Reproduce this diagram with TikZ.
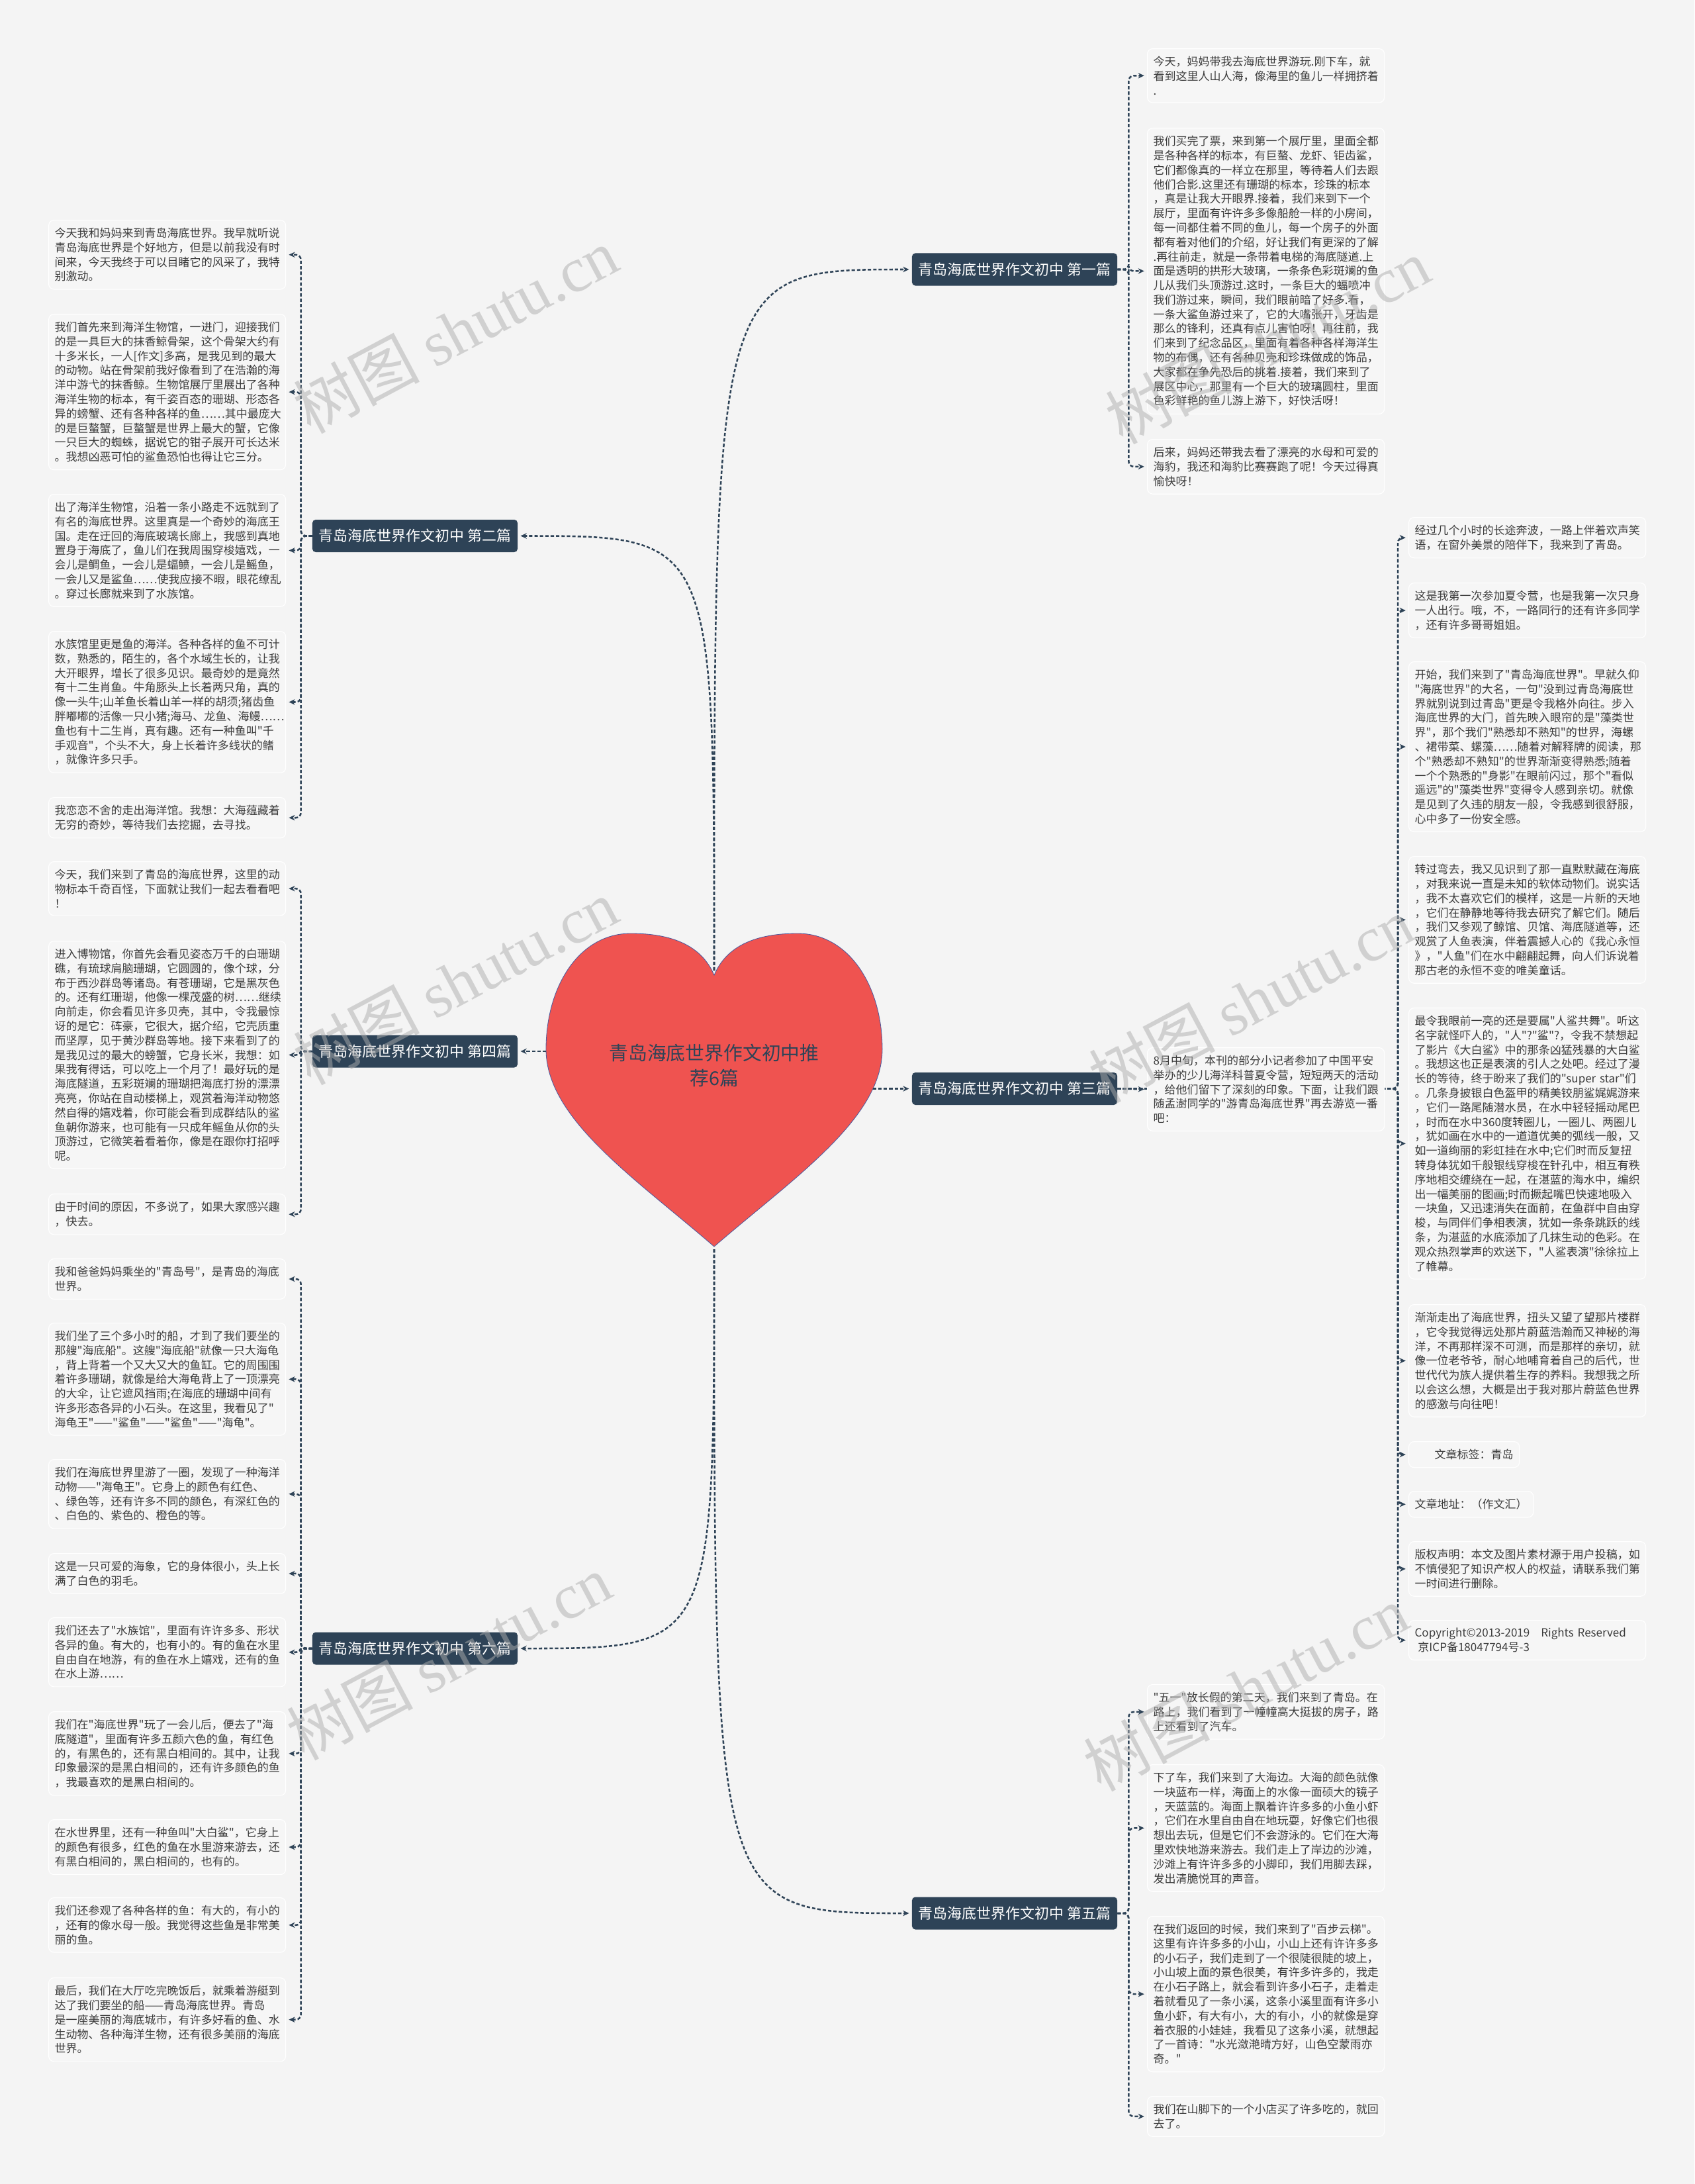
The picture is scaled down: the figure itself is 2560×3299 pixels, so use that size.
\documentclass[tikz,border=0pt]{standalone}
\usepackage{fontspec}
\newfontfamily\cjk{Noto Sans CJK SC}
\newfontfamily\wmfont{Liberation Serif}
\usepackage{xcolor}
\usepackage{tikz}
\usetikzlibrary{arrows.meta}
\definecolor{navy}{HTML}{2E4357}
\definecolor{paper}{HTML}{F4F4F4}
\definecolor{leaffill}{HTML}{F6F6F6}
\definecolor{ink}{HTML}{3C3C3C}
\definecolor{heartred}{HTML}{EF5350}
\definecolor{heartline}{HTML}{4F5B9E}
\definecolor{wmgray}{HTML}{ADADAD}

\begin{document}
\begin{tikzpicture}[x=0.025cm,y=-0.025cm,
  leafbox/.style={draw=white,line width=0.8pt,fill=leaffill,rounded corners=0.2cm,
                  anchor=north west,align=left,inner xsep=0.225cm,inner ysep=0.29cm,
                  text=ink,font=\cjk\fontsize{12.1pt}{15.5pt}\selectfont},
  leaf/.style={leafbox,text width=8.5cm},
  branch/.style={fill=navy,text=white,rounded corners=0.125cm,minimum width=7.75cm,
                 minimum height=1.225cm,font=\cjk\fontsize{15.6pt}{18pt}\selectfont},
  conn/.style={navy,line width=1.8pt,dash pattern=on 3.6pt off 2.2pt,rounded corners=5.5pt,
               -{Stealth[length=6.5pt,width=6pt]},shorten >=3pt},
  wmark/.style={text=wmgray,text opacity=0.5,rotate=28,font=\cjk\fontsize{68pt}{70pt}\selectfont}]
  \fill[paper] (0,0) rectangle (2560,3299);
  \useasboundingbox (0,0) rectangle (2560,3299);

  % centre heart
  \draw[fill=heartred,draw=heartline,line width=0.6pt]
    (1079,1473) .. controls (1060,1428) and (1015,1410) .. (953,1410)
    .. controls (875,1410) and (825,1490) .. (825,1585)
    .. controls (825,1690) and (960,1780) .. (1079,1883)
    .. controls (1198,1780) and (1333,1690) .. (1333,1585)
    .. controls (1333,1490) and (1283,1410) .. (1205,1410)
    .. controls (1143,1410) and (1098,1428) .. (1079,1473) -- cycle;
  \node[text=navy,align=center,font=\cjk\fontsize{20.5pt}{27pt}\selectfont] (H) at (1079,1609)
    {青岛海底世界作文初中推\\荐6篇};
  \coordinate (Htop) at (1079,1466);
  \coordinate (Hbot) at (1079,1887);
  \coordinate (Hl) at (825,1588);
  \coordinate (Hr) at (1319,1644.5);

  % branches
  \node[branch] (P1) at (1533,407)    {青岛海底世界作文初中 第一篇};
  \node[branch] (P2) at (627,809.5)   {青岛海底世界作文初中 第二篇};
  \node[branch] (P3) at (1533,1644.5) {青岛海底世界作文初中 第三篇};
  \node[branch] (P4) at (627,1588)    {青岛海底世界作文初中 第四篇};
  \node[branch] (P5) at (1533,2890)   {青岛海底世界作文初中 第五篇};
  \node[branch] (P6) at (627,2490)    {青岛海底世界作文初中 第六篇};

  % 第一篇
  \node[leaf] (P1a) at (1733,73) {今天，妈妈带我去海底世界游玩.刚下车，就\\看到这里人山人海，像海里的鱼儿一样拥挤着\\.};
  \node[leaf] (P1b) at (1733,193) {我们买完了票，来到第一个展厅里，里面全都\\是各种各样的标本，有巨螯、龙虾、钜齿鲨，\\它们都像真的一样立在那里，等待着人们去跟\\他们合影.这里还有珊瑚的标本，珍珠的标本\\，真是让我大开眼界.接着，我们来到下一个\\展厅，里面有许许多多像船舱一样的小房间，\\每一间都住着不同的鱼儿，每一个房子的外面\\都有着对他们的介绍，好让我们有更深的了解\\.再往前走，就是一条带着电梯的海底隧道.上\\面是透明的拱形大玻璃，一条条色彩斑斓的鱼\\儿从我们头顶游过.这时，一条巨大的蝠喷冲\\我们游过来，瞬间，我们眼前暗了好多.看，\\一条大鲨鱼游过来了，它的大嘴张开，牙齿是\\那么的锋利，还真有点儿害怕呀！再往前，我\\们来到了纪念品区，里面有着各种各样海洋生\\物的布偶，还有各种贝壳和珍珠做成的饰品，\\大家都在争先恐后的挑着.接着，我们来到了\\展区中心，那里有一个巨大的玻璃圆柱，里面\\色彩鲜艳的鱼儿游上游下，好快活呀！};
  \node[leaf] (P1c) at (1733,663) {后来，妈妈还带我去看了漂亮的水母和可爱的\\海豹，我还和海豹比赛赛跑了呢！今天过得真\\愉快呀！};

  % 第二篇
  \node[leaf] (P2a) at (73,332) {今天我和妈妈来到青岛海底世界。我早就听说\\青岛海底世界是个好地方，但是以前我没有时\\间来，今天我终于可以目睹它的风采了，我特\\别激动。};
  \node[leaf] (P2b) at (73,474) {我们首先来到海洋生物馆，一进门，迎接我们\\的是一具巨大的抹香鲸骨架，这个骨架大约有\\十多米长，一人[作文]多高，是我见到的最大\\的动物。站在骨架前我好像看到了在浩瀚的海\\洋中游弋的抹香鲸。生物馆展厅里展出了各种\\海洋生物的标本，有千姿百态的珊瑚、形态各\\异的螃蟹、还有各种各样的鱼……其中最庞大\\的是巨螯蟹，巨螯蟹是世界上最大的蟹，它像\\一只巨大的蜘蛛，据说它的钳子展开可长达米\\。我想凶恶可怕的鲨鱼恐怕也得让它三分。};
  \node[leaf] (P2c) at (73,746) {出了海洋生物馆，沿着一条小路走不远就到了\\有名的海底世界。这里真是一个奇妙的海底王\\国。走在迂回的海底玻璃长廊上，我感到真地\\置身于海底了，鱼儿们在我周围穿梭嬉戏，一\\会儿是鲷鱼，一会儿是蝠鲼，一会儿是鳐鱼，\\一会儿又是鲨鱼……使我应接不暇，眼花缭乱\\。穿过长廊就来到了水族馆。};
  \node[leaf] (P2d) at (73,953) {水族馆里更是鱼的海洋。各种各样的鱼不可计\\数，熟悉的，陌生的，各个水域生长的，让我\\大开眼界，增长了很多见识。最奇妙的是竟然\\有十二生肖鱼。牛角豚头上长着两只角，真的\\像一头牛;山羊鱼长着山羊一样的胡须;猪齿鱼\\胖嘟嘟的活像一只小猪;海马、龙鱼、海鳗……\\鱼也有十二生肖，真有趣。还有一种鱼叫"千\\手观音"，个头不大，身上长着许多线状的鳍\\，就像许多只手。};
  \node[leaf] (P2e) at (73,1204) {我恋恋不舍的走出海洋馆。我想：大海蕴藏着\\无穷的奇妙，等待我们去挖掘，去寻找。};

  % 第三篇
  \node[leaf] (P3b) at (2128,781) {经过几个小时的长途奔波，一路上伴着欢声笑\\语，在窗外美景的陪伴下，我来到了青岛。};
  \node[leaf] (P3c) at (2128,880) {这是我第一次参加夏令营，也是我第一次只身\\一人出行。哦，不，一路同行的还有许多同学\\，还有许多哥哥姐姐。};
  \node[leaf] (P3d) at (2128,999) {开始，我们来到了"青岛海底世界"。早就久仰\\"海底世界"的大名，一句"没到过青岛海底世\\界就别说到过青岛"更是令我格外向往。步入\\海底世界的大门，首先映入眼帘的是"藻类世\\界"，那个我们"熟悉却不熟知"的世界，海螺\\、裙带菜、螺藻……随着对解释牌的阅读，那\\个"熟悉却不熟知"的世界渐渐变得熟悉;随着\\一个个熟悉的"身影"在眼前闪过，那个"看似\\遥远"的"藻类世界"变得令人感到亲切。就像\\是见到了久违的朋友一般，令我感到很舒服，\\心中多了一份安全感。};
  \node[leaf] (P3e) at (2128,1293) {转过弯去，我又见识到了那一直默默藏在海底\\，对我来说一直是未知的软体动物们。说实话\\，我不太喜欢它们的模样，这是一片新的天地\\，它们在静静地等待我去研究了解它们。随后\\，我们又参观了鲸馆、贝馆、海底隧道等，还\\观赏了人鱼表演，伴着震撼人心的《我心永恒\\》，"人鱼"们在水中翩翩起舞，向人们诉说着\\那古老的永恒不变的唯美童话。};
  \node[leaf] (P3f) at (2128,1522) {最令我眼前一亮的还是要属"人鲨共舞"。听这\\名字就怪吓人的，"人"?"鲨"?，令我不禁想起\\了影片《大白鲨》中的那条凶猛残暴的大白鲨\\。我想这也正是表演的引人之处吧。经过了漫\\长的等待，终于盼来了我们的"super~star"们\\。几条身披银白色盔甲的精美铰朋鲨娓娓游来\\，它们一路尾随潜水员，在水中轻轻摇动尾巴\\，时而在水中360度转圈儿，一圈儿、两圈儿\\，犹如画在水中的一道道优美的弧线一般，又\\如一道绚丽的彩虹挂在水中;它们时而反复扭\\转身体犹如千般银线穿梭在针孔中，相互有秩\\序地相交缠绕在一起，在湛蓝的海水中，编织\\出一幅美丽的图画;时而撅起嘴巴快速地吸入\\一块鱼，又迅速消失在面前，在鱼群中自由穿\\梭，与同伴们争相表演，犹如一条条跳跃的线\\条，为湛蓝的水底添加了几抹生动的色彩。在\\观众热烈掌声的欢送下，"人鲨表演"徐徐拉上\\了帷幕。};
  \node[leaf] (P3g) at (2128,1970) {渐渐走出了海底世界，扭头又望了望那片楼群\\，它令我觉得远处那片蔚蓝浩瀚而又神秘的海\\洋，不再那样深不可测，而是那样的亲切，就\\像一位老爷爷，耐心地哺育着自己的后代，世\\世代代为族人提供着生存的养料。我想我之所\\以会这么想，大概是出于我对那片蔚蓝色世界\\的感激与向往吧！};
  \node[leafbox] (P3h) at (2128,2177) {\hspace*{0.75cm}文章标签：青岛};
  \node[leafbox] (P3i) at (2128,2252) {文章地址：（作文汇）};
  \node[leaf] (P3j) at (2128,2328) {版权声明：本文及图片素材源于用户投稿，如\\不慎侵犯了知识产权人的权益，请联系我们第\\一时间进行删除。};
  \node[leaf] (P3k) at (2128,2447) {\mbox{Copyright©2013-2019\ \ \ Rights Reserved}\\\hspace*{0.12cm}京ICP备18047794号-3};

  % 第四篇
  \node[leaf] (P4a) at (73,1301) {今天，我们来到了青岛的海底世界，这里的动\\物标本千奇百怪，下面就让我们一起去看看吧\\！};
  \node[leaf] (P4b) at (73,1421) {进入博物馆，你首先会看见姿态万千的白珊瑚\\礁，有琉球肩脑珊瑚，它圆圆的，像个球，分\\布于西沙群岛等诸岛。有苍珊瑚，它是黑灰色\\的。还有红珊瑚，他像一棵茂盛的树……继续\\向前走，你会看见许多贝壳，其中，令我最惊\\讶的是它：砗豪，它很大，据介绍，它壳质重\\而坚厚，见于黄沙群岛等地。接下来看到了的\\是我见过的最大的螃蟹，它身长米，我想：如\\果我有得话，可以吃上一个月了！最好玩的是\\海底隧道，五彩斑斓的珊瑚把海底打扮的漂漂\\亮亮，你站在自动楼梯上，观赏着海洋动物悠\\然自得的嬉戏着，你可能会看到成群结队的鲨\\鱼朝你游来，也可能有一只成年鳐鱼从你的头\\顶游过，它微笑着看着你，像是在跟你打招呼\\呢。};
  \node[leaf] (P4c) at (73,1803) {由于时间的原因，不多说了，如果大家感兴趣\\，快去。};

  % 第五篇
  \node[leaf] (P5a) at (1733,2544) {"五一"放长假的第二天，我们来到了青岛。在\\路上，我们看到了一幢幢高大挺拔的房子，路\\上还看到了汽车。};
  \node[leaf] (P5b) at (1733,2665) {下了车，我们来到了大海边。大海的颜色就像\\一块蓝布一样，海面上的水像一面硕大的镜子\\，天蓝蓝的。海面上飘着许许多多的小鱼小虾\\，它们在水里自由自在地玩耍，好像它们也很\\想出去玩，但是它们不会游泳的。它们在大海\\里欢快地游来游去。我们走上了岸边的沙滩，\\沙滩上有许许多多的小脚印，我们用脚去踩，\\发出清脆悦耳的声音。};
  \node[leaf] (P5c) at (1733,2894) {在我们返回的时候，我们来到了"百步云梯"。\\这里有许许多多的小山，小山上还有许许多多\\的小石子，我们走到了一个很陡很陡的坡上，\\小山坡上面的景色很美，有许多许多的，我走\\在小石子路上，就会看到许多小石子，走着走\\着就看见了一条小溪，这条小溪里面有许多小\\鱼小虾，有大有小，大的有小，小的就像是穿\\着衣服的小娃娃，我看见了这条小溪，就想起\\了一首诗："水光潋滟晴方好，山色空蒙雨亦\\奇。"};
  \node[leaf] (P5d) at (1733,3166) {我们在山脚下的一个小店买了许多吃的，就回\\去了。};

  % 第六篇
  \node[leaf] (P6a) at (73,1901) {我和爸爸妈妈乘坐的"青岛号"，是青岛的海底\\世界。};
  \node[leaf] (P6b) at (73,1998) {我们坐了三个多小时的船，才到了我们要坐的\\那艘"海底船"。这艘"海底船"就像一只大海龟\\，背上背着一个又大又大的鱼缸。它的周围围\\着许多珊瑚，就像是给大海龟背上了一顶漂亮\\的大伞，让它遮风挡雨;在海底的珊瑚中间有\\许多形态各异的小石头。在这里，我看见了"\\海龟王"——"鲨鱼"——"鲨鱼"——"海龟"。};
  \node[leaf] (P6c) at (73,2204) {我们在海底世界里游了一圈，发现了一种海洋\\动物——"海龟王"。它身上的颜色有红色、\\、绿色等，还有许多不同的颜色，有深红色的\\、白色的、紫色的、橙色的等。};
  \node[leaf] (P6d) at (73,2346) {这是一只可爱的海象，它的身体很小，头上长\\满了白色的羽毛。};
  \node[leaf] (P6e) at (73,2443) {我们还去了"水族馆"，里面有许许多多、形状\\各异的鱼。有大的，也有小的。有的鱼在水里\\自由自在地游，有的鱼在水上嬉戏，还有的鱼\\在水上游……};
  \node[leaf] (P6f) at (73,2585) {我们在"海底世界"玩了一会儿后，便去了"海\\底隧道"，里面有许多五颜六色的鱼，有红色\\的，有黑色的，还有黑白相间的。其中，让我\\印象最深的是黑白相间的，还有许多颜色的鱼\\，我最喜欢的是黑白相间的。};
  \node[leaf] (P6g) at (73,2748) {在水世界里，还有一种鱼叫"大白鲨"，它身上\\的颜色有很多，红色的鱼在水里游来游去，还\\有黑白相间的，黑白相间的，也有的。};
  \node[leaf] (P6h) at (73,2866) {我们还参观了各种各样的鱼：有大的，有小的\\，还有的像水母一般。我觉得这些鱼是非常美\\丽的鱼。};
  \node[leaf] (P6i) at (73,2987) {最后，我们在大厅吃完晚饭后，就乘着游艇到\\达了我们要坐的船——青岛海底世界。青岛\\是一座美丽的海底城市，有许多好看的鱼、水\\生动物、各种海洋生物，还有很多美丽的海底\\世界。};

  % heart to branches
  \draw[conn] (Htop) .. controls (Htop |- P1.west) and (Htop |- P1.west) .. (P1.west);
  \draw[conn] (Htop) .. controls (Htop |- P2.east) and (Htop |- P2.east) .. (P2.east);
  \draw[conn] (Hr) -- (P3.west);
  \draw[conn] (Hl) -- (P4.east);
  \draw[conn] (Hbot) .. controls (Hbot |- P5.west) and (Hbot |- P5.west) .. (P5.west);
  \draw[conn] (Hbot) .. controls (Hbot |- P6.east) and (Hbot |- P6.east) .. (P6.east);

  % branches to leaves
  \draw[conn] (P1.east) -- ++(17,0) |- (P1a.west); \draw[conn] (P1.east) -- ++(17,0) |- (P1b.west);
  \draw[conn] (P1.east) -- ++(17,0) |- (P1c.west);
  \draw[conn] (P2.west) -- ++(-17,0) |- (P2a.east); \draw[conn] (P2.west) -- ++(-17,0) |- (P2b.east);
  \draw[conn] (P2.west) -- ++(-17,0) |- (P2c.east); \draw[conn] (P2.west) -- ++(-17,0) |- (P2d.east);
  \draw[conn] (P2.west) -- ++(-17,0) |- (P2e.east);
  \coordinate (S3) at (2112,1644.5);
  \draw[conn] (P3.east) -- (S3) |- (P3b.west); \draw[conn] (P3.east) -- (S3) |- (P3c.west);
  \draw[conn] (P3.east) -- (S3) |- (P3d.west); \draw[conn] (P3.east) -- (S3) |- (P3e.west);
  \draw[conn] (P3.east) -- (S3) |- (P3f.west); \draw[conn] (P3.east) -- (S3) |- (P3g.west);
  \draw[conn] (P3.east) -- (S3) |- (P3h.west); \draw[conn] (P3.east) -- (S3) |- (P3i.west);
  \draw[conn] (P3.east) -- (S3) |- (P3j.west); \draw[conn] (P3.east) -- (S3) |- (P3k.west);
  \draw[conn] (P4.west) -- ++(-17,0) |- (P4a.east); \draw[conn] (P4.west) -- ++(-17,0) |- (P4b.east);
  \draw[conn] (P4.west) -- ++(-17,0) |- (P4c.east);
  \draw[conn] (P5.east) -- ++(17,0) |- (P5a.west); \draw[conn] (P5.east) -- ++(17,0) |- (P5b.west);
  \draw[conn] (P5.east) -- ++(17,0) |- (P5c.west); \draw[conn] (P5.east) -- ++(17,0) |- (P5d.west);
  \draw[conn] (P6.west) -- ++(-17,0) |- (P6a.east); \draw[conn] (P6.west) -- ++(-17,0) |- (P6b.east);
  \draw[conn] (P6.west) -- ++(-17,0) |- (P6c.east); \draw[conn] (P6.west) -- ++(-17,0) |- (P6d.east);
  \draw[conn] (P6.west) -- ++(-17,0) |- (P6e.east); \draw[conn] (P6.west) -- ++(-17,0) |- (P6f.east);
  \draw[conn] (P6.west) -- ++(-17,0) |- (P6g.east); \draw[conn] (P6.west) -- ++(-17,0) |- (P6h.east);
  \draw[conn] (P6.west) -- ++(-17,0) |- (P6i.east);

  % put after the lines: it covers the run to the 第三篇 column
  \node[leaf] (P3a) at (1733,1582) {8月中旬，本刊的部分小记者参加了中国平安\\举办的少儿海洋科普夏令营，短短两天的活动\\，给他们留下了深刻的印象。下面，让我们跟\\随孟澍同学的"游青岛海底世界"再去游览一番\\吧：};
  \draw[conn] (P3.east) -- (P3a.west);

  % watermarks
  \node[wmark] (W1) at (688,499)   {树图 {\wmfont shutu.cn}};
  \node[wmark] (W2) at (688,1483)  {树图 {\wmfont shutu.cn}};
  \node[wmark] (W3) at (678,2503)  {树图 {\wmfont shutu.cn}};
  \node[wmark] (W4) at (1915,515)  {树图 {\wmfont shutu.cn}};
  \node[wmark] (W5) at (1890,1510) {树图 {\wmfont shutu.cn}};
  \node[wmark] (W6) at (1882,2550) {树图 {\wmfont shutu.cn}};
\end{tikzpicture}
\end{document}
